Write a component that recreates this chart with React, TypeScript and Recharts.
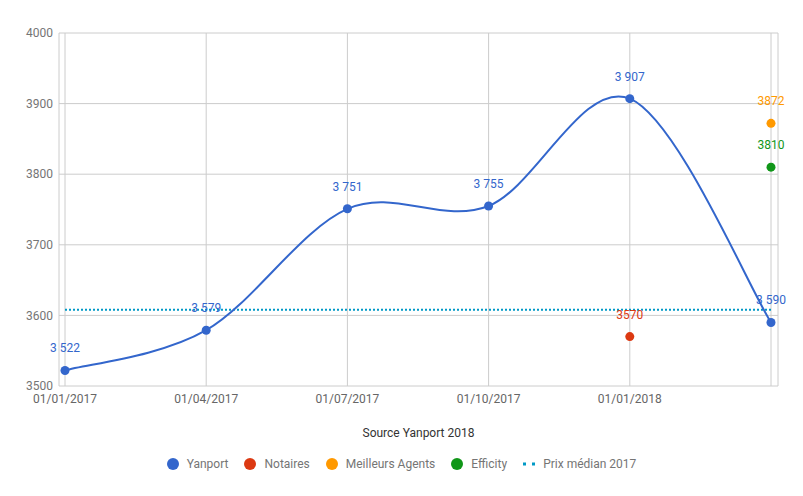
import React from 'react';
import { LineChart, Line, XAxis, YAxis, CartesianGrid, Legend, LabelList } from 'recharts';

const categories = ['01/01/2017', '01/04/2017', '01/07/2017', '01/10/2017', '01/01/2018', '01/04/2018'];
const tickLabels = ['01/01/2017', '01/04/2017', '01/07/2017', '01/10/2017', '01/01/2018', ''];
const yanport = [3522, 3579, 3751, 3755, 3907, 3590];
const notaires = [null, null, null, null, 3570, null];
const meilleursAgents = [null, null, null, null, null, 3872];
const efficity = [null, null, null, null, null, 3810];
const medianPrice = 3608;
const yTicks = [3500, 3600, 3700, 3800, 3900, 4000];

const series = [
  { key: 'yanport', name: 'Yanport', color: '#3366cc', kind: 'dot' },
  { key: 'notaires', name: 'Notaires', color: '#dc3912', kind: 'dot' },
  { key: 'meilleurs', name: 'Meilleurs Agents', color: '#ff9900', kind: 'dot' },
  { key: 'efficity', name: 'Efficity', color: '#109618', kind: 'dot' },
  { key: 'median', name: 'Prix médian 2017', color: '#0099c6', kind: 'dash' },
];

const data = categories.map((c, i) => ({
  date: c,
  yanport: yanport[i],
  notaires: notaires[i],
  meilleurs: meilleursAgents[i],
  efficity: efficity[i],
  median: medianPrice,
}));

const FONT = 'Roboto, "Noto Sans", sans-serif';

// Catmull-Rom style smooth curve (like Google Charts "function" curves)
const curveSmooth: any = (context: any) => {
  let pts: number[][] = [];
  return {
    areaStart() {},
    areaEnd() {},
    lineStart() {
      pts = [];
    },
    point(x: number, y: number) {
      pts.push([+x, +y]);
    },
    lineEnd() {
      const n = pts.length;
      if (!n) return;
      context.moveTo(pts[0][0], pts[0][1]);
      for (let i = 0; i < n - 1; i++) {
        const p0 = pts[i - 1] || pts[i];
        const p1 = pts[i];
        const p2 = pts[i + 1];
        const p3 = pts[i + 2] || pts[i + 1];
        const k = 1 / 6;
        context.bezierCurveTo(
          p1[0] + (p2[0] - p0[0]) * k,
          p1[1] + (p2[1] - p0[1]) * k,
          p2[0] - (p3[0] - p1[0]) * k,
          p2[1] - (p3[1] - p1[1]) * k,
          p2[0],
          p2[1]
        );
      }
    },
  };
};

const fmtSpace = (v: any) => {
  if (v === null || v === undefined) return '';
  const s = String(v);
  return s.replace(/\B(?=(\d{3})+(?!\d))/g, ' ');
};

const LegendContent = () => (
  <div
    style={{
      display: 'flex',
      justifyContent: 'center',
      alignItems: 'center',
      fontFamily: FONT,
      fontSize: 12,
      color: '#757575',
      height: 22,
    }}
  >
    {series.map((s, i) => (
      <div key={s.key} style={{ display: 'flex', alignItems: 'center', marginLeft: i === 0 ? 0 : 16 }}>
        {s.kind === 'dot' ? (
          <svg width={12} height={12} style={{ marginRight: 8 }}>
            <circle cx={6} cy={6} r={6} fill={s.color} />
          </svg>
        ) : (
          <svg width={12} height={12} style={{ marginRight: 8 }}>
            <line x1={0} y1={6} x2={12} y2={6} stroke={s.color} strokeWidth={3} strokeDasharray="3 6" />
          </svg>
        )}
        <span>{s.name}</span>
      </div>
    ))}
  </div>
);

export default function App() {
  return (
    <div style={{ position: 'absolute', left: 0, top: 0, background: '#fff' }}>
      <LineChart width={803} height={496} data={data} margin={{ top: 33, right: 25, left: 0, bottom: 0 }}>
        <CartesianGrid stroke="#cccccc" strokeWidth={1} />
        <XAxis
          dataKey="date"
          padding={{ left: 6, right: 7 }}
          axisLine={false}
          tickLine={false}
          tickSize={0}
          tickMargin={8}
          height={110}
          interval={0}
          tickFormatter={(v: any, i: number) => tickLabels[i] ?? ''}
          tick={{ fill: '#666666', fontSize: 12, fontFamily: FONT }}
          label={{
            value: 'Source Yanport 2018',
            position: 'insideTop',
            offset: 42,
            fill: '#333333',
            fontSize: 12,
            fontFamily: FONT,
          }}
        />
        <YAxis
          domain={[3500, 4000]}
          ticks={yTicks}
          width={59}
          axisLine={false}
          tickLine={false}
          tickSize={0}
          tickMargin={6}
          tick={{ fill: '#757575', fontSize: 12, fontFamily: FONT }}
        />
        <Legend verticalAlign="middle" wrapperStyle={{ top: 453, left: 0, width: 803 }} content={<LegendContent />} />
        <Line
          dataKey="median"
          name="Prix médian 2017"
          stroke="#0099c6"
          strokeWidth={2}
          strokeDasharray="2 2"
          dot={false}
          isAnimationActive={false}
        />
        <Line
          dataKey="yanport"
          name="Yanport"
          type={curveSmooth}
          stroke="#3366cc"
          strokeWidth={2}
          dot={{ r: 4.5, fill: '#3366cc', stroke: '#3366cc', strokeWidth: 0 }}
          isAnimationActive={false}
        >
          <LabelList dataKey="yanport" position="top" offset={18} formatter={fmtSpace} fill="#3366cc" fontSize={12} fontFamily={FONT} />
        </Line>
        <Line
          dataKey="notaires"
          name="Notaires"
          stroke="none"
          dot={{ r: 4.5, fill: '#dc3912', stroke: '#dc3912', strokeWidth: 0 }}
          isAnimationActive={false}
        >
          <LabelList dataKey="notaires" position="top" offset={18} fill="#dc3912" fontSize={12} fontFamily={FONT} />
        </Line>
        <Line
          dataKey="meilleurs"
          name="Meilleurs Agents"
          stroke="none"
          dot={{ r: 4.5, fill: '#ff9900', stroke: '#ff9900', strokeWidth: 0 }}
          isAnimationActive={false}
        >
          <LabelList dataKey="meilleurs" position="top" offset={18} fill="#ff9900" fontSize={12} fontFamily={FONT} />
        </Line>
        <Line
          dataKey="efficity"
          name="Efficity"
          stroke="none"
          dot={{ r: 4.5, fill: '#109618', stroke: '#109618', strokeWidth: 0 }}
          isAnimationActive={false}
        >
          <LabelList dataKey="efficity" position="top" offset={18} fill="#109618" fontSize={12} fontFamily={FONT} />
        </Line>
      </LineChart>
    </div>
  );
}
